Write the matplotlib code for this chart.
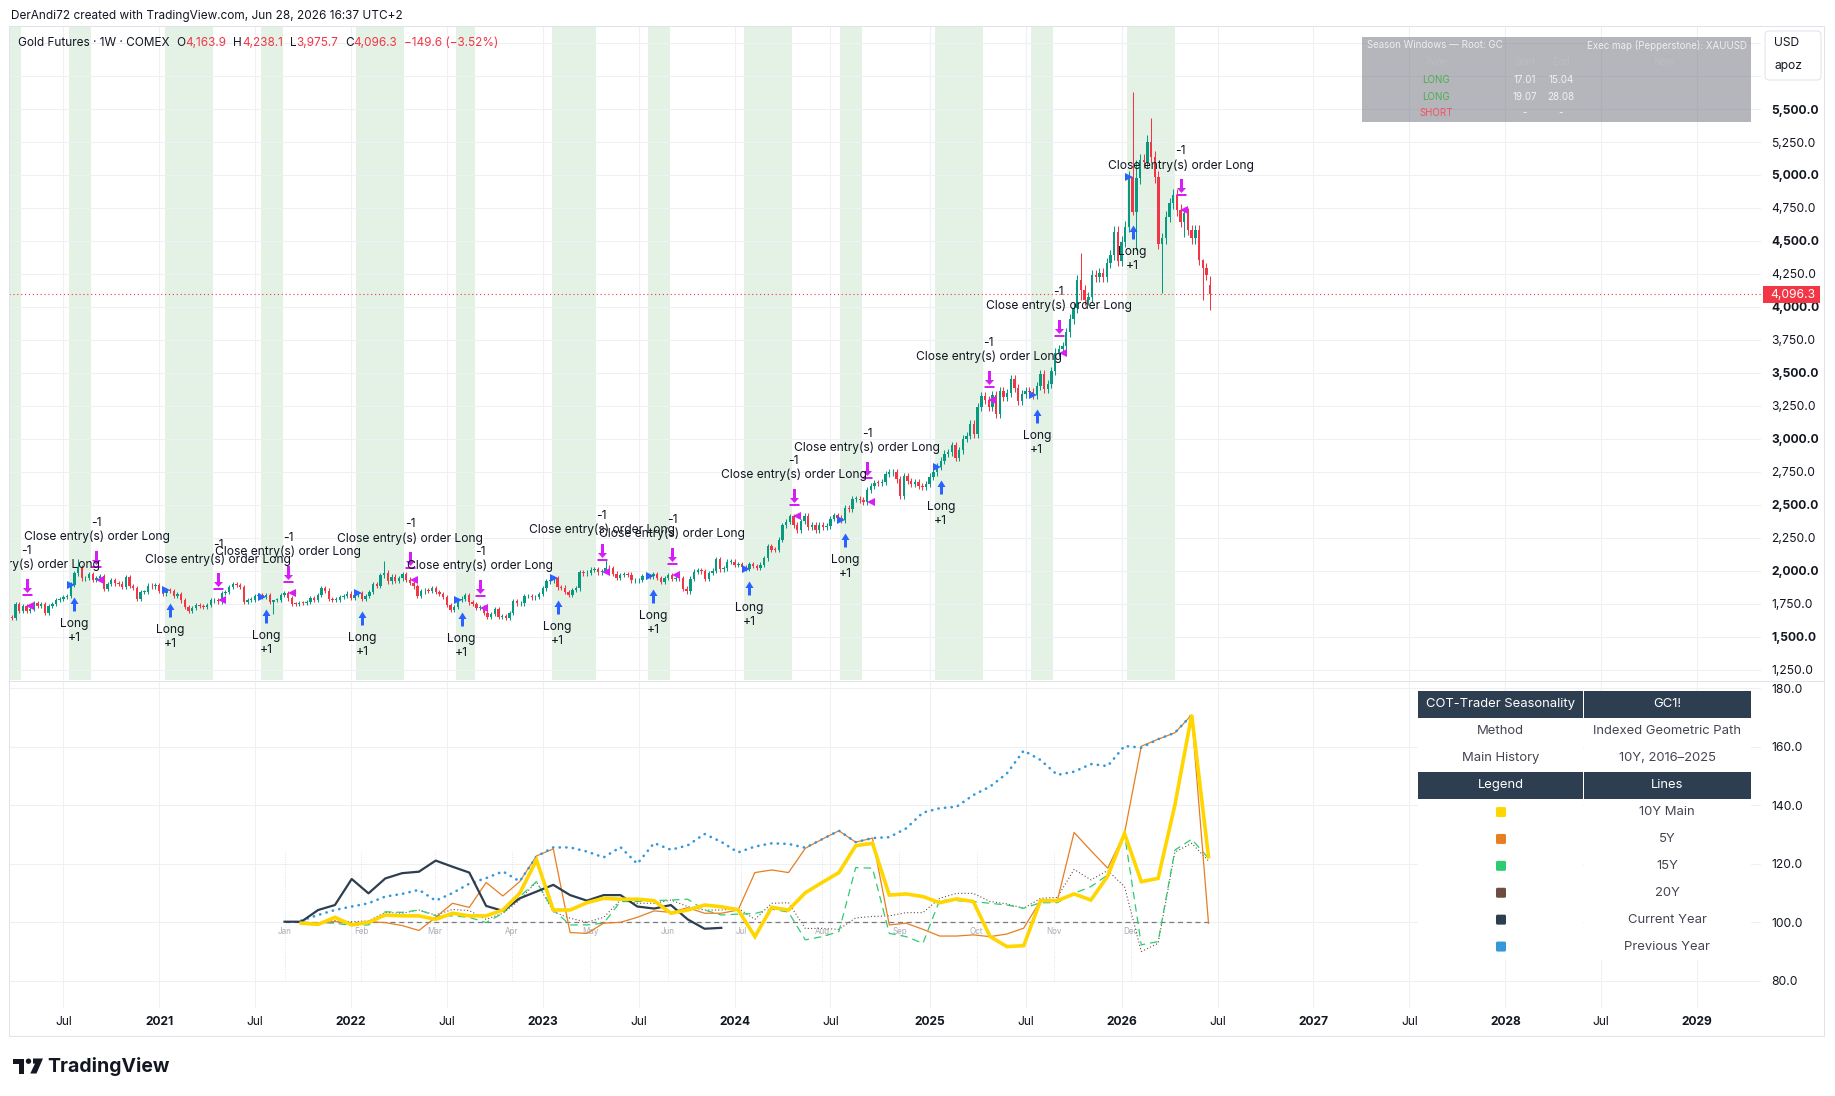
import numpy as np
import pandas as pd
import matplotlib
matplotlib.use("Agg")
import matplotlib.pyplot as plt
from matplotlib.path import Path
from matplotlib.patches import Rectangle, FancyBboxPatch, Polygon, Circle
from matplotlib.transforms import offset_copy

plt.rcParams['font.family'] = ['Inter', 'DejaVu Sans']

W, H = 1835, 1096

# ---------------- weekly gold futures bars (close of each week, week starts Monday) ----------------
first_bar = "2020-03-23"
first_open = 1560.0
last_open = 4163.9
closes_2020 = [1654, 1646, 1752, 1699, 1736, 1700, 1714, 1756, 1735, 1751,
               1683, 1737, 1753, 1781, 1790, 1801, 1810, 1897, 1985, 2028,
               1944, 1947, 1975, 1934, 1947, 1962, 1866, 1900, 1930, 1906,
               1905, 1880, 1952, 1886, 1872, 1788, 1840, 1840, 1890, 1883, 1895]
closes_2021 = [1850, 1830, 1856, 1850, 1814, 1823, 1777, 1729, 1699, 1720,
               1742, 1733, 1729, 1745, 1777, 1777, 1769, 1832, 1839, 1877,
               1903, 1892, 1877, 1764, 1781, 1784, 1811, 1815, 1801, 1817,
               1763, 1780, 1781, 1818, 1833, 1792, 1751, 1750, 1758, 1757,
               1768, 1796, 1783, 1818, 1868, 1852, 1788, 1784, 1784, 1804, 1811, 1829]
closes_2022 = [1797, 1817, 1835, 1785, 1808, 1842, 1900, 1889, 1967, 1986,
               1921, 1958, 1923, 1945, 1975, 1934, 1911, 1883, 1808, 1845,
               1851, 1850, 1871, 1840, 1826, 1801, 1742, 1703, 1727, 1781,
               1791, 1815, 1762, 1749, 1721, 1728, 1683, 1655, 1672, 1709,
               1648, 1656, 1644, 1681, 1771, 1754, 1754, 1809, 1810, 1800, 1804, 1826]
closes_2023 = [1869, 1921, 1928, 1945, 1876, 1874, 1842, 1817, 1856, 1868,
               1989, 1983, 1986, 2011, 2015, 1990, 1999, 2025, 2019, 1981,
               1946, 1970, 1977, 1971, 1929, 1929, 1932, 1960, 1962, 1960,
               1976, 1946, 1918, 1948, 1966, 1942, 1946, 1945, 1866, 1846,
               1941, 1994, 2006, 1999, 1938, 1984, 2003, 2089, 2014, 2019, 2069, 2071]
closes_2024 = [2049, 2051, 2029, 2018, 2053, 2038, 2024, 2046, 2095, 2186,
               2161, 2160, 2238, 2345, 2374, 2413, 2349, 2311, 2375, 2419,
               2334, 2348, 2311, 2349, 2334, 2339, 2397, 2421, 2400, 2386,
               2480, 2470, 2546, 2546, 2536, 2525, 2611, 2646, 2668, 2667,
               2676, 2736, 2747, 2749, 2694, 2571, 2717, 2681, 2660, 2675, 2645, 2639, 2658]
closes_2025 = [2715, 2748, 2790, 2835, 2887, 2900, 2953, 2857, 2915, 3001,
               3024, 3114, 3036, 3245, 3328, 3298, 3243, 3330, 3187, 3365,
               3315, 3346, 3452, 3385, 3287, 3342, 3363, 3359, 3336, 3399,
               3491, 3382, 3418, 3516, 3653, 3680, 3705, 3809, 3908, 3992,
               4205, 4129, 4050, 4076, 4242, 4230, 4255, 4230, 4331, 4394, 4570, 4350]
closes_2026 = [4495, 4608, 4987, 4722, 4977, 5114, 5100, 5252, 5139, 4985,
               4480, 4520, 4684, 4786, 4848, 4735, 4645, 4710, 4583, 4520,
               4583, 4356, 4293, 4245.9, 4096.3]
closes = closes_2020 + closes_2021 + closes_2022 + closes_2023 + closes_2024 + closes_2025 + closes_2026

# bars with wicks that stand out: date -> (high, low)
wick_extremes = {
    "2020-08-03": (2089, 1965),
    "2021-08-09": (1784, 1677),
    "2022-03-07": (2079, 1950),
    "2023-05-01": (2085, 1985),
    "2025-10-20": (4409, 4053),
    "2026-01-26": (5629, 4700),
    "2026-02-02": (5114, 4432),
    "2026-03-02": (5430, 5100),
    "2026-03-23": (4560, 4104),
    "2026-05-04": (4730, 4532),
    "2026-06-08": (4360, 4053),
    "2026-06-22": (4238.1, 3975.7),
}

# strategy fills (bar dates)
entry_dates = ["2020-07-27", "2021-01-25", "2021-07-26", "2022-01-24", "2022-08-01", "2023-01-30",
               "2023-07-31", "2024-01-29", "2024-07-29", "2025-01-27", "2025-07-28", "2026-01-26"]
exit_dates = ["2020-04-27", "2020-09-07", "2021-04-26", "2021-09-06", "2022-04-25", "2022-09-05",
              "2023-04-24", "2023-09-04", "2024-04-22", "2024-09-09", "2025-04-28", "2025-09-08",
              "2026-04-27"]

# season windows table
season_rows = [("LONG", "17.01", "15.04"), ("LONG", "19.07", "28.08"), ("SHORT", "-", "-")]

# ---------------- seasonality pane (index, start = 100) ----------------
current_year = [100.2, 100.2, 104.2, 105.9, 114.8, 109.9, 115.0, 116.8, 117.3, 121.1,
                119.0, 117.0, 105.6, 103.9, 108.2, 110.5, 112.8, 109.3, 107.4, 109.3,
                109.3, 105.4, 104.7, 105.9, 101.0, 97.8, 98.1]
previous_year = [100.6, 102.5, 104.2, 105.4, 106.5, 108.8, 109.7, 111.1, 107.4, 110.0,
                 113.2, 115.1, 117.4, 114.0, 122.5, 125.6, 125.6, 124.2, 122.2, 125.7,
                 120.0, 127.1, 124.8, 126.3, 130.2, 127.5, 123.9, 125.9, 127.0, 126.8,
                 125.5, 128.4, 131.3, 127.4, 128.8, 129.1, 132.1, 137.5, 139.0, 139.5,
                 143.5, 146.4, 150.9, 158.7, 155.5, 150.4, 151.5, 154.1, 153.4, 160.3,
                 159.7, 162.6, 164.8, 170.9]
main_10y = [99.7, 99.3, 101.7, 99.1, 100.0, 102.5, 102.2, 102.2, 101.0, 103.1,
            102.2, 102.2, 104.2, 109.9, 121.3, 104.2, 104.2, 106.7, 108.2, 107.9,
            107.9, 107.4, 103.1, 104.2, 105.9, 105.3, 104.3, 95.1, 105.1, 104.2,
            110.1, 113.6, 117.0, 126.2, 127.0, 109.3, 109.7, 108.8, 106.7, 108.0,
            107.1, 95.1, 91.7, 92.0, 107.4, 107.4, 109.7, 107.6, 115.8, 130.4,
            113.9, 115.0, 140.1, 170.9, 122.4]
hist_5y = [100.0, 99.6, 100.3, 99.4, 100.2, 99.9, 98.9, 97.2, 101.7, 106.5,
           105.1, 113.6, 109.0, 113.9, 122.7, 125.1, 96.5, 96.2, 99.7, 100.0,
           101.7, 103.9, 103.4, 105.0, 103.1, 103.1, 104.2, 117.0, 117.9, 117.0,
           125.3, 128.4, 131.3, 127.4, 128.8, 99.1, 99.7, 97.6, 95.3, 95.3,
           95.7, 95.1, 96.0, 98.0, 107.4, 107.4, 130.7, 124.5, 118.5, 130.4,
           160.2, 162.6, 164.8, 170.9, 99.7]
hist_15y = [99.9, 99.9, 99.7, 98.9, 99.1, 103.6, 103.4, 104.2, 102.2, 102.2,
            101.7, 99.9, 103.1, 108.8, 113.9, 104.2, 99.1, 99.1, 99.7, 107.1,
            107.1, 107.4, 107.6, 107.9, 104.2, 102.5, 102.8, 103.0, 104.5, 103.5,
            94.0, 95.1, 96.8, 118.7, 118.5, 96.2, 95.1, 92.8, 107.6, 107.4,
            107.1, 106.5, 105.9, 104.8, 106.7, 106.7, 109.9, 112.2, 116.2, 130.2,
            92.3, 93.4, 124.7, 128.4, 121.9]
hist_20y = [100.1, 99.8, 100.6, 100.2, 100.5, 103.4, 103.1, 104.2, 102.5, 104.4,
            104.0, 101.0, 103.1, 107.6, 113.9, 103.6, 101.4, 100.0, 101.7, 107.6,
            106.5, 106.5, 107.6, 105.4, 104.2, 104.2, 104.8, 101.0, 106.5, 106.7,
            97.9, 97.9, 97.6, 101.5, 102.0, 102.2, 103.3, 103.3, 108.2, 109.9,
            109.9, 107.1, 106.3, 104.8, 108.2, 108.5, 118.1, 114.5, 117.7, 112.2,
            90.0, 92.8, 124.0, 127.0, 121.0]
month_names = ["Jan", "Feb", "Mar", "Apr", "May", "Jun", "Jul", "Aug", "Sep", "Oct", "Nov", "Dec"]
month_steps = [0, 4.55, 8.96, 13.54, 18.2, 22.8, 27.17, 32.0, 36.6, 41.2, 45.8, 50.4]

table_title = ("COT-Trader Seasonality", "GC1!")
table_info = [("Method", "Indexed Geometric Path"), ("Main History", "10Y, 2016\u20132025")]
legend_head = ("Legend", "Lines")
legend_rows = [("10Y Main", "#ffd600"), ("5Y", "#e67e22"), ("15Y", "#2ecc71"),
               ("20Y", "#6d4c41"), ("Current Year", "#2c3e50"), ("Previous Year", "#3498db")]

# ---------------- style ----------------
UP, DN = "#089981", "#f23645"
BLUE, MAG = "#2962ff", "#d61cf7"
TXT = "#131722"
GRID = "#eef0f4"
BORDER = "#e0e3eb"
BAND = "#e4f2e6"
DARK = "#2c3e50"
CELL_TXT = "#434651"
FS = 8.7


def dec_year(ts):
    ts = pd.DatetimeIndex(ts)
    return np.asarray(ts.year + (ts.dayofyear - 1) / np.where(ts.is_leap_year, 366, 365), float)


def first_monday(y, m):
    d = pd.Timestamp(y, m, 1)
    return d + pd.Timedelta(days=(7 - d.weekday()) % 7)


# pixel calibration of the time axis
T_REF, PX_REF, PX_PER_YEAR = 2021.008, 159.0, 192.4
t_of_px = lambda px: T_REF + (px - PX_REF) / PX_PER_YEAR
SEAS_T0 = t_of_px(284.5)
SEAS_STEP = 16.8 / PX_PER_YEAR

fig = plt.figure(figsize=(W / 100, H / 100), dpi=100, facecolor="white")
ax = fig.add_axes([9 / W, 1 - 680 / H, 1752 / W, 654 / H])
ax2 = fig.add_axes([9 / W, 1 - 1008 / H, 1752 / W, 327 / H], sharex=ax)

for a in (ax, ax2):
    a.set_facecolor("white")
    for s in a.spines.values():
        s.set_visible(False)
    a.grid(True, color=GRID, lw=0.75)
    a.set_axisbelow(True)
    a.yaxis.tick_right()
    a.tick_params(axis="y", length=0, pad=7.2, labelsize=FS, labelcolor=TXT)
    a.tick_params(axis="x", length=0)
ax.tick_params(labelbottom=False)

# x ticks at the first weekly bar of Jan / Jul
periods = [(2020, 7)] + [(y, m) for y in range(2021, 2030) for m in (1, 7)]
xt = dec_year([first_monday(y, m) for y, m in periods])
xl = ["Jul" if m == 7 else str(y) for y, m in periods]
ax2.set_xticks(xt, xl)
ax2.tick_params(axis="x", pad=5.6, labelsize=FS, labelcolor=TXT)
for lab in ax2.get_xticklabels():
    if lab.get_text().isdigit():
        lab.set_fontweight("bold")

yt = np.arange(1250, 6001, 250)
ax.set_yticks(yt, [f"{v:,.1f}" if v <= 5500 else "" for v in yt])
for v, lab in zip(yt, ax.get_yticklabels()):
    if v % 500 == 0:
        lab.set_fontweight("bold")
yt2 = np.arange(80, 181, 20)
ax2.set_yticks(yt2, [f"{v:.1f}" for v in yt2])

ax.set_xlim(t_of_px(9), t_of_px(1761))
ax.set_ylim(1174.2, 6128.8)
ax2.set_ylim(70.7, 182.5)

# ---------------- candles ----------------
dates = pd.date_range(first_bar, periods=len(closes), freq="7D")
t = dec_year(dates)
c = np.array(closes, float)
o = np.r_[first_open, c[:-1]]
o[-1] = last_open
WICK = 0.009
hi = np.maximum(o, c) * (1 + WICK)
lo = np.minimum(o, c) * (1 - WICK)
for d, (h, l) in wick_extremes.items():
    i = dates.get_loc(pd.Timestamp(d))
    hi[i] = max(h, o[i], c[i])
    lo[i] = min(l, o[i], c[i])
col = np.where(c >= o, UP, DN)
BODY_W = 0.65 * 7 / 365.25
ax.vlines(t, lo, hi, colors=col, lw=0.75, zorder=3)
ax.bar(t, np.maximum(np.abs(c - o), 5), bottom=np.minimum(o, c), width=BODY_W,
       color=col, lw=0, zorder=4)

# season background bands
md = np.asarray(dates.month * 100 + dates.day)
inwin = np.zeros(len(dates), bool)
for kind, s, e in season_rows:
    if kind == "LONG":
        sd, sm = map(int, s.split("."))
        ed, em = map(int, e.split("."))
        inwin |= (md >= sm * 100 + sd) & (md <= em * 100 + ed)
HALF = 3.5 / 365.25
i = 0
while i < len(inwin):
    if inwin[i]:
        j = i
        while j + 1 < len(inwin) and inwin[j + 1]:
            j += 1
        ax.axvspan(t[i] - HALF, t[j] + HALF, color=BAND, lw=0, zorder=0.3)
        i = j + 1
    else:
        i += 1

# last price line
ax.axhline(c[-1], color=DN, lw=0.8, ls=(0, (1, 2.5)), zorder=2)

# ---------------- strategy markers ----------------
M, L, CL = Path.MOVETO, Path.LINETO, Path.CLOSEPOLY
up_arrow = Path([(0, 7), (4, 0.5), (1.5, 0.5), (1.5, -7), (-1.5, -7), (-1.5, 0.5), (-4, 0.5), (0, 7)],
                [M, L, L, L, L, L, L, CL])
down_arrow = Path([(-1.5, 8.5), (1.5, 8.5), (1.5, -0.5), (4.5, -0.5), (0, -5.5), (-4.5, -0.5),
                   (-1.5, -0.5), (-1.5, 8.5),
                   (-5, -6.5), (5, -6.5), (5, -8.5), (-5, -8.5), (-5, -6.5)],
                  [M, L, L, L, L, L, L, CL, M, L, L, L, CL])


def off(dy):
    return offset_copy(ax.transData, fig=fig, x=0, y=dy, units="dots")


def label(x, y, s, dy):
    tx = ax.text(x, y, s, transform=off(dy), ha="center", va="center", fontsize=FS,
                 color=TXT, zorder=8, clip_on=True)
    tx.set_clip_box(ax.bbox)


for d in entry_dates:
    i = dates.get_loc(pd.Timestamp(d))
    ax.plot([t[i]], [lo[i]], marker=up_arrow, ms=14 * 0.72, color=BLUE, mew=0,
            ls="none", transform=off(-17), zorder=7)
    label(t[i], lo[i], "Long", -37)
    label(t[i], lo[i], "+1", -51)
    ax.plot([t[i - 1]], [o[i]], marker=">", ms=5.5, color=BLUE, mew=0, ls="none", zorder=7)

for d in exit_dates:
    i = dates.get_loc(pd.Timestamp(d))
    ax.plot([t[i]], [hi[i]], marker=down_arrow, ms=17 * 0.72, color=MAG, mew=0,
            ls="none", transform=off(17), zorder=7)
    label(t[i], hi[i], "Close entry(s) order Long", 39)
    label(t[i], hi[i], "-1", 53)
    ax.plot([t[i + 1]], [o[i]], marker="<", ms=5.5, color=MAG, mew=0, ls="none", zorder=7)

# ---------------- seasonality pane ----------------
def seas_x(n, start):
    return SEAS_T0 + (np.arange(n) + start) * SEAS_STEP


end_k = len(main_10y)
ax2.plot([SEAS_T0, SEAS_T0 + end_k * SEAS_STEP], [100, 100], color="#787b86", lw=0.9,
         ls=(0, (4, 3)), zorder=1.5)
for name, k in zip(month_names, month_steps):
    xm = SEAS_T0 + k * SEAS_STEP
    ax2.plot([xm, xm], [80.3, 124.1], color="#d6d8de", lw=0.6, ls=(0, (1, 2)), zorder=1)
    ax2.text(xm, 96.8, name, ha="center", va="center", fontsize=5.8, color="#a9acb5", zorder=1.6)

ax2.plot(seas_x(len(hist_20y), 1), hist_20y, color="#6d4c41", lw=0.8, ls=(0, (1, 2)), zorder=2)
ax2.plot(seas_x(len(hist_15y), 1), hist_15y, color="#2ecc71", lw=0.9, ls=(0, (6, 4)), zorder=3)
ax2.plot(seas_x(len(hist_5y), 1), hist_5y, color="#e67e22", lw=0.9, zorder=4)
ax2.plot(seas_x(len(previous_year), 1), previous_year, color="#3498db", lw=1.9,
         ls=(0, (0.1, 2.4)), dash_capstyle="round", zorder=5)
ax2.plot(seas_x(len(current_year), 0), current_year, color=DARK, lw=1.6, zorder=6)
ax2.plot(seas_x(len(main_10y), 1), main_10y, color="#ffd600", lw=2.6, zorder=7,
         solid_joinstyle="miter")

# ---------------- overlay (pixel coordinates) ----------------
ov = fig.add_axes([0, 0, 1, 1])
ov.set_xlim(0, W)
ov.set_ylim(H, 0)
ov.axis("off")
ov.set_zorder(10)

ov.add_patch(Rectangle((9, 26), 1815, 1010, fill=False, ec=BORDER, lw=0.75))
ov.plot([9, 1824], [680.5, 680.5], color=BORDER, lw=0.75)

ov.text(10.7, 15.7, "DerAndi72 created with TradingView.com, Jun 28, 2026 16:37 UTC+2",
        va="center", ha="left", fontsize=8.5, color=TXT)

ren = fig.canvas.get_renderer()
chg = c[-1] - c[-2]
pieces = [("Gold Futures \u00b7 1W \u00b7 COMEX", TXT, 6.5), ("O", TXT, 0.2), (f"{o[-1]:,.1f}", DN, 6.5),
          ("H", TXT, 0.2), (f"{hi[-1]:,.1f}", DN, 6.5), ("L", TXT, 0.2), (f"{lo[-1]:,.1f}", DN, 6.5),
          ("C", TXT, 0.2), (f"{c[-1]:,.1f}", DN, 6.5),
          (f"\u2212{abs(chg):.1f} (\u2212{abs(chg) / c[-2] * 100:.2f}%)", DN, 0)]
xx = 18.4
for s, colr, gap in pieces:
    tx = ov.text(xx, 43.3, s, color=colr, fontsize=8.5, va="center", ha="left")
    xx += tx.get_window_extent(renderer=ren).width + gap

# last price tag
ov.add_patch(Rectangle((1763, 286), 57, 16.7, fc=DN, lw=0))
ov.text(1770.7, 294.6, f"{c[-1]:,.1f}", color="white", fontsize=FS, va="center", ha="left")

# currency / unit box
ov.add_patch(FancyBboxPatch((1765, 31), 56, 49, boxstyle="round,pad=0,rounding_size=4",
                            fc="white", ec=BORDER, lw=0.75))
ov.text(1774, 43.5, "USD", fontsize=FS, color=TXT, va="center", ha="left")
ov.text(1774, 66.5, "apoz", fontsize=FS, color=TXT, va="center", ha="left")

# season windows panel
ov.add_patch(Rectangle((1362, 37.3), 388.7, 84.4, fc="#787b86", alpha=0.55, lw=0))
ov.text(1366.7, 45.3, "Season Windows \u2014 Root: GC", fontsize=7, color="#eeeef0", va="center")
ov.text(1746.7, 45.3, "Exec map (Pepperstone): XAUUSD", fontsize=7, color="#eeeef0",
        va="center", ha="right")
for s, xh in zip(["Type", "Start", "End", "Now"], [1436, 1525, 1560.7, 1664]):
    ov.text(xh, 62, s, fontsize=7, color="#bcbdc2", va="center", ha="center")
for r, (kind, s, e) in enumerate(season_rows):
    yr = 79.7 + r * 16.8
    ov.text(1436, yr, kind, fontsize=7, color="#4caf50" if kind == "LONG" else "#f7525f",
            va="center", ha="center")
    ov.text(1525, yr, s, fontsize=7, color="#f2f2f4", va="center", ha="center")
    ov.text(1560.7, yr, e, fontsize=7, color="#f2f2f4", va="center", ha="center")

# COT seasonality table
cx0, cx1, cx2 = 1418, 1583.5, 1751
row_h = 26.9
ty0 = 691
rows = [(table_title, True), (table_info[0], False), (table_info[1], False), (legend_head, True)]
rows += [((None, n), False) for n, _ in legend_rows]
for r, ((a_txt, b_txt), head) in enumerate(rows):
    y0 = ty0 + r * row_h
    fc = DARK if head else "white"
    ov.add_patch(Rectangle((cx0, y0), cx1 - cx0 - 0.5, row_h, fc=fc, lw=0))
    ov.add_patch(Rectangle((cx1 + 0.5, y0), cx2 - cx1 - 0.5, row_h, fc=fc, lw=0))
    tc = "white" if head else CELL_TXT
    yc = y0 + row_h / 2
    if a_txt is not None:
        ov.text((cx0 + cx1) / 2, yc, a_txt, fontsize=9.4, color=tc, ha="center", va="center")
    ov.text((cx1 + cx2) / 2, yc, b_txt, fontsize=9.4, color=tc, ha="center", va="center")
for r, (n, colr) in enumerate(legend_rows):
    yc = ty0 + (4 + r) * row_h + row_h / 2
    ov.add_patch(FancyBboxPatch((1501 - 5, yc - 5), 10, 10, boxstyle="round,pad=0,rounding_size=1.5",
                                fc=colr, lw=0))

# TradingView logo
ov.add_patch(Rectangle((12.5, 1058.5), 11.5, 5, fc=TXT, lw=0))
ov.add_patch(Rectangle((18.5, 1058.5), 5.5, 15, fc=TXT, lw=0))
ov.add_patch(Circle((28.5, 1061.2), 2.7, fc=TXT, lw=0))
ov.add_patch(Polygon([(33, 1058.5), (43, 1058.5), (36.5, 1073.5), (30.3, 1073.5), (35, 1063.6), (33, 1063.6)],
                     closed=True, fc=TXT, lw=0))
ov.text(47.5, 1066, "TradingView", fontsize=14, fontweight="bold", color=TXT, va="center", ha="left")

fig.savefig("out.png", dpi=100, facecolor="white")
